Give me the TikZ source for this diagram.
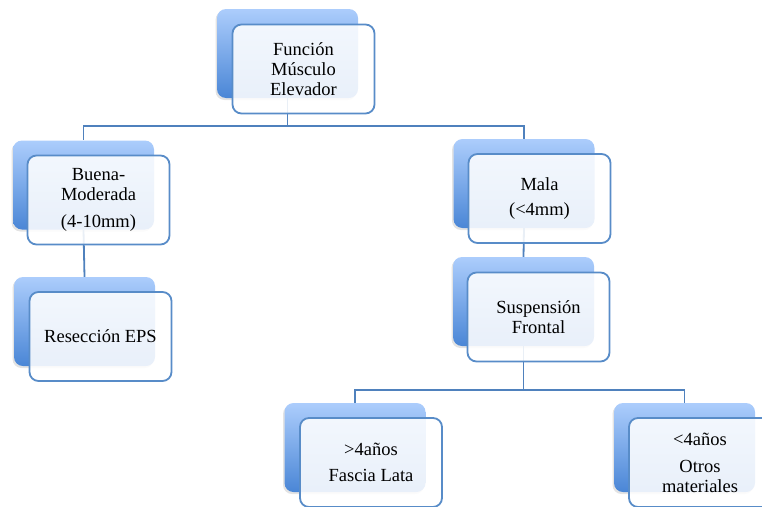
\documentclass[tikz,border=0pt]{standalone}
\usepackage{fontspec}
\setmainfont{Liberation Serif}
\usetikzlibrary{positioning,shadows}
\definecolor{BackTop}{RGB}{172,205,252}
\definecolor{BackBottom}{RGB}{74,134,214}
\definecolor{BoxBorder}{RGB}{88,140,200}
\definecolor{LineBlue}{RGB}{79,129,189}
\begin{document}
\begin{tikzpicture}[
  x=1pt, y=-1pt,
  back/.style={rounded corners=9pt, minimum width=141pt, minimum height=89pt, inner sep=0pt,
    top color=BackTop, bottom color=BackBottom,
    drop shadow={shadow xshift=-1.5pt, shadow yshift=-2pt, opacity=0.22}},
  box/.style={draw=BoxBorder, line width=1.8pt, rounded corners=9pt, fill=white, fill opacity=0.88,
    text opacity=1, minimum width=142pt, minimum height=89pt, align=center,
    font=\fontsize{18.5}{20}\selectfont},
  conn/.style={draw=LineBlue, line width=1.8pt}
]
\useasboundingbox (0,0) rectangle (762,506);

% back plates
\node[back] (funcB) at (287.5,53.5) {};
\node[back] (buenaB) at (83.5,185) {};
\node[back] (resecB) at (84.5,321.5) {};
\node[back] (malaB) at (524,183.5) {};
\node[back] (suspB) at (523.5,301.5) {};
\node[back] (fasciaB) at (355,447.5) {};
\node[back] (otrosB) at (684.5,447.5) {};

% connectors
\draw[conn] (funcB.south) -- ++(0,28) -| (buenaB.north);
\draw[conn] (funcB.south) -- ++(0,28) -| (malaB.north);
\draw[conn] (buenaB.south) -- (resecB.north);
\draw[conn] (malaB.south) -- (suspB.north);
\draw[conn] (suspB.south) -- ++(0,44) -| (fasciaB.north);
\draw[conn] (suspB.south) -- ++(0,44) -| (otrosB.north);

% text boxes
\node[box] (func) at ([shift={(16,15.5)}]funcB) {Función\\Músculo\\Elevador};
\node[box] (buena) at ([shift={(15,15)}]buenaB) {Buena-\\Moderada\\[7pt](4-10mm)};
\node[box] (resec) at ([shift={(16,15)}]resecB) {Resección EPS};
\node[box] (mala) at ([shift={(15.5,15)}]malaB) {Mala\\[5pt](<4mm)};
\node[box] (susp) at ([shift={(15,15.5)}]suspB) {Suspensión\\Frontal};
\node[box] (fascia) at ([shift={(16,15)}]fasciaB) {>4años\\[6pt]Fascia Lata};
\node[box] (otros) at ([shift={(15.5,15)}]otrosB) {<4años\\[7pt]Otros\\materiales};
\end{tikzpicture}
\end{document}
